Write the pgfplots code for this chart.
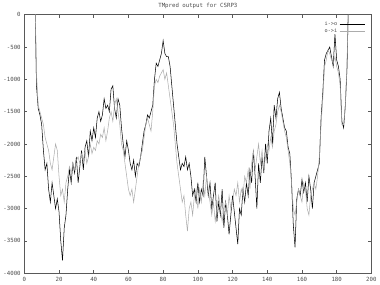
\documentclass[border=0pt]{standalone}
\usepackage{fontspec}
\setmonofont{DejaVu Sans Mono}
\usepackage{pgfplots}
\pgfplotsset{compat=1.18}
\usepackage{pgfplotstable}
\pgfplotstableread{
x y
6 500
7 -1100
8 -1450
9 -1550
10 -1700
11 -2100
12 -2400
13 -2300
14 -2700
15 -2900
16 -2600
17 -2800
18 -3000
19 -2850
20 -3050
21 -3500
22 -3800
23 -3300
24 -3100
25 -2700
26 -2400
27 -2600
28 -2300
29 -2450
30 -2200
31 -2600
32 -2350
33 -2100
34 -2400
35 -2050
36 -1950
37 -2200
38 -1800
39 -1950
40 -1750
41 -1900
42 -1600
43 -1500
44 -1650
45 -1550
46 -1300
47 -1450
48 -1400
49 -1500
50 -1150
51 -1100
52 -1450
53 -1600
54 -1300
55 -1400
56 -1750
57 -2000
58 -2200
59 -1950
60 -2100
61 -2300
62 -2400
63 -2250
64 -2500
65 -2300
66 -2350
67 -2200
68 -2000
69 -1800
70 -1700
71 -1550
72 -1600
73 -1500
74 -1400
75 -1000
76 -750
77 -800
78 -700
79 -600
80 -400
81 -600
82 -650
83 -650
84 -800
85 -1100
86 -1400
87 -1700
88 -2000
89 -2200
90 -2400
91 -2300
92 -2350
93 -2200
94 -2400
95 -2300
96 -2500
97 -2800
98 -2700
99 -2900
100 -2600
101 -2900
102 -2700
103 -2800
104 -2200
105 -2500
106 -2800
107 -2600
108 -3000
109 -2800
110 -2600
111 -3200
112 -2900
113 -3100
114 -2700
115 -3300
116 -2900
117 -3100
118 -3400
119 -3100
120 -2800
121 -3050
122 -3300
123 -3550
124 -3000
125 -3100
126 -2700
127 -2900
128 -2600
129 -2800
130 -2400
131 -2600
132 -2100
133 -2500
134 -3000
135 -2300
136 -2600
137 -2200
138 -2450
139 -2000
140 -2300
141 -1800
142 -1600
143 -2000
144 -1400
145 -1600
146 -1300
147 -1200
148 -1450
149 -1600
150 -1750
151 -1800
152 -2050
153 -2150
154 -2600
155 -3250
156 -3600
157 -2850
158 -2700
159 -2800
160 -2550
161 -2750
162 -2600
163 -2900
164 -2500
165 -2700
166 -3000
167 -2600
168 -2500
169 -2400
170 -2300
171 -1600
172 -1200
173 -700
174 -600
175 -550
176 -500
177 -650
178 -800
179 -300
180 -700
181 -800
182 -1000
183 -1650
184 -1750
185 -1400
186 -800
187 500
}\io
\pgfplotstableread{
x y
6 500
7 -900
8 -1400
9 -1500
10 -1600
11 -1700
12 -1900
13 -2000
14 -2100
15 -2300
16 -2400
17 -2200
18 -2000
19 -2100
20 -2500
21 -2800
22 -2700
23 -2900
24 -2600
25 -2500
26 -2350
27 -2450
28 -2300
29 -2400
30 -2250
31 -2200
32 -2300
33 -2150
34 -2250
35 -2100
36 -2300
37 -2200
38 -2000
39 -2150
40 -2050
41 -2100
42 -1950
43 -2000
44 -1850
45 -1900
46 -1750
47 -1950
48 -1800
49 -1600
50 -1500
51 -1650
52 -1400
53 -1300
54 -1500
55 -1700
56 -2000
57 -2100
58 -2300
59 -2500
60 -2700
61 -2800
62 -2700
63 -2900
64 -2700
65 -2500
66 -2300
67 -2200
68 -2100
69 -1900
70 -1700
71 -1600
72 -1700
73 -1800
74 -1500
75 -1100
76 -1000
77 -1050
78 -950
79 -900
80 -850
81 -1000
82 -900
83 -1100
84 -1300
85 -1500
86 -1700
87 -2000
88 -2300
89 -2500
90 -2700
91 -2900
92 -2800
93 -3100
94 -3350
95 -3000
96 -2900
97 -3100
98 -2800
99 -2700
100 -3000
101 -2700
102 -2900
103 -2600
104 -2800
105 -2500
106 -2700
107 -2900
108 -3100
109 -2900
110 -3200
111 -3000
112 -2800
113 -3000
114 -3200
115 -3000
116 -2900
117 -3100
118 -2800
119 -3000
120 -2900
121 -2700
122 -2800
123 -2600
124 -2900
125 -2700
126 -2800
127 -2500
128 -2600
129 -2400
130 -2700
131 -2300
132 -2100
133 -2400
134 -2200
135 -2000
136 -2300
137 -2100
138 -2400
139 -2200
140 -2000
141 -2100
142 -1900
143 -2050
144 -1800
145 -1700
146 -1500
147 -1400
148 -1500
149 -1650
150 -1800
151 -1900
152 -2100
153 -2300
154 -2600
155 -3000
156 -3100
157 -2900
158 -2700
159 -2800
160 -2900
161 -2600
162 -2700
163 -3000
164 -3100
165 -2800
166 -2700
167 -2600
168 -2700
169 -2500
170 -2200
171 -1700
172 -1300
173 -800
174 -700
175 -550
176 -600
177 -700
178 -750
179 -650
180 -800
181 -900
182 -1100
183 -1700
184 -1700
185 -1400
186 -700
187 500
}\oi
\begin{document}
\begin{tikzpicture}
\begin{axis}[
  scale only axis,
  width=333bp, height=248bp,
  xmin=0, xmax=200, ymin=-4000, ymax=0,
  xtick={0,20,...,200},
  ytick={-4000,-3500,...,0},
  tick align=inside,
  major tick length=3pt,
  axis line style={gray!70!black, line width=0.6pt},
  tick style={gray!70!black, line width=0.5pt},
  ticklabel style={font=\ttfamily\fontsize{5.5}{6}\selectfont, text=gray!60!black},
  /pgf/number format/assume math mode=true,
  /pgf/number format/1000 sep={},
  scaled ticks=false,
  title={TMpred output for CSRP3},
  title style={font=\ttfamily\fontsize{5.5}{6}\selectfont, text=gray!60!black, yshift=-4pt},
  legend pos=north east,
  legend cell align=right,
  legend plot pos=right,
  legend style={draw=none, fill=none, font=\ttfamily\fontsize{5}{5.5}\selectfont, text=gray!60!black, row sep=-3pt, inner sep=1pt, at={(0.985,0.985)}},
  legend image code/.code={\draw[#1, line width=0.6pt] (0bp,0bp) -- (24bp,0bp);},
  clip=true,
]
\addplot[black, line width=0.5pt] table {\io};
\addlegendentry{i->o}
\addplot[gray!65, line width=0.5pt] table {\oi};
\addlegendentry{o->i}
\end{axis}
\end{tikzpicture}
\end{document}
